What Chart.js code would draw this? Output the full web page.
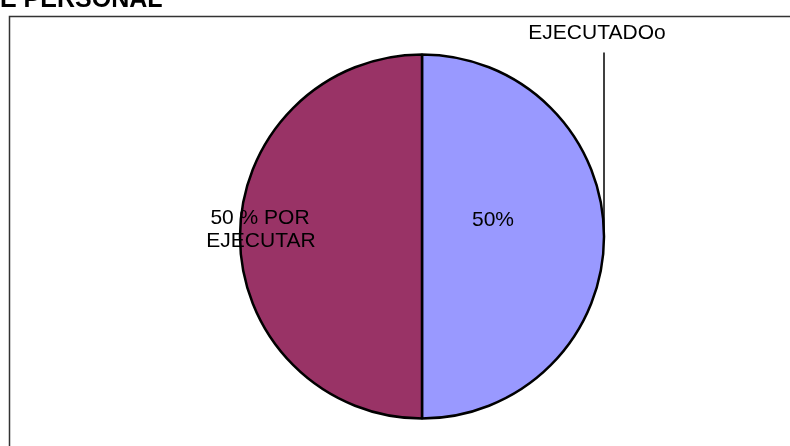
<!DOCTYPE html>
<html>
<head>
<meta charset="utf-8">
<script src="https://cdn.jsdelivr.net/npm/chart.js@4/dist/chart.umd.min.js"></script>
<style>
html,body{margin:0;padding:0;background:#fff;overflow:hidden;}
#wrap{position:relative;width:790px;height:446px;}
canvas{display:block;}
</style>
</head>
<body>
<div id="wrap"><canvas id="c" width="790" height="446"></canvas></div>
<script>
const titleText = "E PERSONAL";
const categories = ["EJECUTADOo", "POR EJECUTAR"];
const values = [50, 50];
const sliceLabels = [["50%"], ["50 % POR", "EJECUTAR"]];
const colors = ["#9999FF", "#993366"];

const overlay = {
  id: 'overlay',
  beforeDraw(chart) {
    const ctx = chart.ctx;
    ctx.save();
    ctx.strokeStyle = '#333';
    ctx.lineWidth = 1.5;
    ctx.strokeRect(9.5, 16.5, 800, 460);
    ctx.fillStyle = '#000';
    ctx.font = 'bold 25px "Liberation Sans", Arial, sans-serif';
    ctx.textAlign = 'left';
    ctx.textBaseline = 'alphabetic';
    ctx.fillText(titleText, 0, 7);
    ctx.restore();
  },
  afterDraw(chart) {
    const ctx = chart.ctx;
    const meta = chart.getDatasetMeta(0);
    const arc = meta.data[0];
    const cx = arc.x, cy = arc.y, r = arc.outerRadius;
    ctx.save();
    ctx.fillStyle = '#000';
    ctx.font = '21px "Liberation Sans", Arial, sans-serif';
    ctx.textAlign = 'center';
    ctx.textBaseline = 'middle';
    ctx.strokeStyle = '#000';
    ctx.lineWidth = 1.5;
    ctx.beginPath();
    ctx.moveTo(cx + r, cy);
    ctx.lineTo(cx + r, cy - r - 2);
    ctx.stroke();
    ctx.fillText(categories[0], cx + r - 7, cy - r - 21);
    ctx.fillText(sliceLabels[0][0], cx + 0.39 * r, cy - 0.09 * r);
    const l2 = sliceLabels[1];
    ctx.fillText(l2[0], cx - 0.89 * r, cy - 0.1 * r);
    ctx.fillText(l2[1], cx - 0.885 * r, cy + 0.025 * r);
    ctx.restore();
  }
};

new Chart(document.getElementById('c'), {
  type: 'pie',
  data: {
    labels: categories,
    datasets: [{
      data: values,
      backgroundColor: colors,
      borderColor: '#000',
      borderWidth: 2.5
    }]
  },
  options: {
    responsive: false,
    animation: false,
    layout: { padding: { left: 238.75, right: 184.75, top: 53.25, bottom: 26.25 } },
    plugins: { legend: { display: false }, tooltip: { enabled: false }, title: { display: false } }
  },
  plugins: [overlay]
});
</script>
</body>
</html>
